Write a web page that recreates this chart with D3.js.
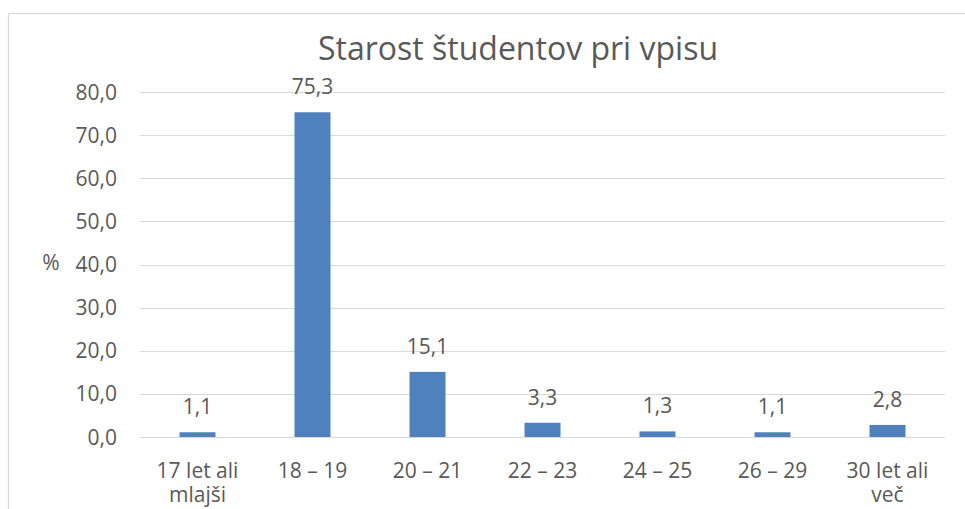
<!DOCTYPE html>
<html>
<head>
<meta charset="utf-8">
<script src="https://cdn.jsdelivr.net/npm/d3@7"></script>
<style>
  body { margin: 0; background: #fff; }
  text { font-family: "Open Sans", sans-serif; fill: #595959; }
</style>
</head>
<body>
<svg id="vis" width="965" height="509"></svg>
<script>
// data
const categories = ['17 let ali mlajši', '18 – 19', '20 – 21', '22 – 23', '24 – 25', '26 – 29', '30 let ali več'];
const values = [1.1, 75.3, 15.1, 3.3, 1.3, 1.1, 2.8];
const yTicks = [0, 10, 20, 30, 40, 50, 60, 70, 80];
const title = 'Starost študentov pri vpisu';

const svg = d3.select('#vis');
const margin = { left: 140, right: 20, top: 92, bottom: 72 };
const _w = 965, _h = 509;

// chart frame (clipped by the window on the right and bottom)
svg.append('rect')
  .attr('x', 8.5).attr('y', 13.5)
  .attr('width', 980).attr('height', 520)
  .attr('fill', 'none').attr('stroke', '#d9d9d9').attr('stroke-width', 1.3);

const x = d3.scaleBand()
  .domain(categories)
  .range([margin.left, _w - margin.right])
  .paddingInner(0.687).paddingOuter(0.3435);

const y = d3.scaleLinear()
  .domain([0, 80])
  .range([_h - margin.bottom, margin.top]);

const fmt = v => d3.format('.1f')(v).replace('.', ',');

// gridlines
svg.append('g')
  .selectAll('line')
  .data(yTicks)
  .join('line')
  .attr('x1', margin.left).attr('x2', _w - margin.right)
  .attr('y1', d => Math.round(y(d)) + 0.5).attr('y2', d => Math.round(y(d)) + 0.5)
  .attr('stroke', '#d9d9d9').attr('stroke-width', 1.2);

// y tick labels
svg.append('g')
  .selectAll('text')
  .data(yTicks)
  .join('text')
  .attr('x', 117).attr('y', d => y(d))
  .attr('dy', '0.36em')
  .attr('text-anchor', 'end')
  .style('font-size', '21px')
  .text(fmt);

// y label
svg.append('text')
  .attr('x', 51).attr('y', 262).attr('dy', '0.36em')
  .attr('text-anchor', 'middle')
  .style('font-size', '21px')
  .text('%');

// bars
svg.append('g')
  .selectAll('rect')
  .data(values)
  .join('rect')
  .attr('x', (d, i) => x(categories[i]))
  .attr('y', d => y(d))
  .attr('width', x.bandwidth())
  .attr('height', d => y(0) - y(d))
  .attr('fill', '#4f81bd');

// value labels
svg.append('g')
  .selectAll('text')
  .data(values)
  .join('text')
  .attr('x', (d, i) => x(categories[i]) + x.bandwidth() / 2)
  .attr('y', d => y(d) - 18)
  .attr('text-anchor', 'middle')
  .style('font-size', '21px')
  .text(fmt);

// category labels, wrapped like the original
const wrap = c => c.includes(' ali ') ? [c.slice(0, c.indexOf(' ali ') + 4), c.slice(c.indexOf(' ali ') + 5)] : [c];
const lines = [];
categories.forEach(c => wrap(c).forEach((line, i) => lines.push({ c, line, i })));
svg.append('g')
  .selectAll('text')
  .data(lines)
  .join('text')
  .attr('x', d => x(d.c) + x.bandwidth() / 2)
  .attr('y', d => 478 + d.i * 24)
  .attr('text-anchor', 'middle')
  .style('font-size', '21px')
  .text(d => d.line);

// title
svg.append('text')
  .attr('x', 518).attr('y', 60)
  .attr('text-anchor', 'middle')
  .style('font-size', '32px')
  .text(title);
</script>
</body>
</html>
